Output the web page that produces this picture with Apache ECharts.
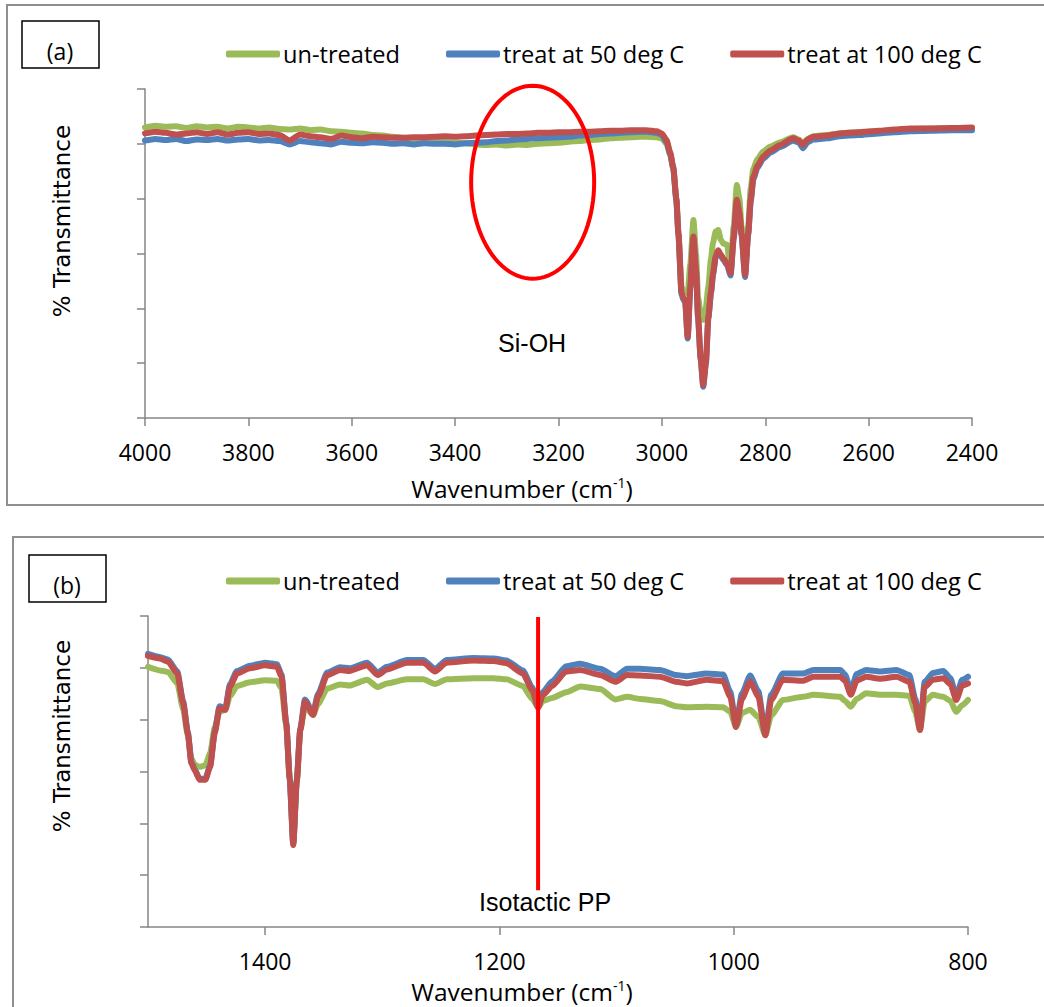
<!DOCTYPE html>
<html><head><meta charset="utf-8">
<script src="https://cdn.jsdelivr.net/npm/echarts@6/dist/echarts.min.js"></script>
<style>html,body{margin:0;padding:0;background:#fff}#c{width:1044px;height:1007px}</style>
</head><body><div id="c"></div>
<script>
// ---------- DATA ----------
const seriesNames = ['un-treated', 'treat at 50 deg C', 'treat at 100 deg C'];

// Panel (a): 4000-2400 cm-1
const wnA = [4000,3980,3960,3940,3920,3900,3880,3860,3840,3820,3800,3780,3760,3740,3720,3700,3680,3660,3640,3620,3600,3580,3560,3540,3520,3500,3480,3460,3440,3420,3400,3380,3360,3340,3320,3300,3280,3260,3240,3220,3200,3180,3160,3140,3120,3100,3080,3060,3040,
  3030,3010,3000,2991,2984,2978,2972,2968,2962,2958,2955,2950,2945,2939,2934,2930,2925,2920,2915,2910,2905,2901,2896,2891,2886,2881,2874,2867,2861,2855,2850,2846,2839,2833,2828,2823,2815,2804,2790,2771,2746,2735,2727,2718,2707,2680,2656,2620,2580,2551,2520,2480,2440,2400];
const untreatedA = [53.0,53.3,53.1,53.2,52.9,53.2,53.0,53.1,52.8,53.1,53.0,52.8,53.0,52.7,52.6,52.8,52.5,52.6,52.3,52.2,52.0,51.9,51.6,51.5,51.3,51.1,50.9,50.7,50.6,50.4,50.2,50.1,49.9,49.8,49.9,49.7,49.9,49.8,50.0,50.1,50.2,50.4,50.5,50.7,50.8,51.0,51.1,51.2,51.3,
  51.3,51.2,51.0,50.0,48.0,45.5,40,34,24,23,23,22.8,28,36.1,30,22,19,17.9,20,24,29,32,34,34.3,32.5,31.8,31.6,27,35,42.5,40,35,27,35,42,45.5,47.2,48.6,49.5,50.3,51.2,50.8,50.0,50.9,51.4,51.6,51.9,52.1,52.3,52.5,52.7,52.8,52.9,52.9];
const t50A = [50.6,50.9,50.7,50.9,50.5,50.8,50.7,50.9,50.6,50.8,50.9,50.6,50.7,50.5,49.9,50.5,50.3,50.1,49.9,50.4,50.2,50.1,50.3,50.2,50.0,50.1,49.9,50.1,50.0,50.0,49.9,50.1,50.2,50.3,50.5,50.6,50.8,50.9,51.0,51.1,51.2,51.3,51.5,51.6,51.8,51.9,52.0,52.1,52.2,
  52.2,52.0,51.6,50.3,48.2,45.5,39.7,33.4,22.5,21.5,21.2,14.5,23.7,32.8,26.7,18.2,10.7,5.7,9.7,18.2,22.7,26.1,29.2,30.3,29.5,28.8,27.9,26.0,32.7,39.5,37.2,33.4,25.7,33.4,39.6,43.6,45.6,47.3,48.4,49.4,50.6,50.2,49.2,50.3,50.8,51.0,51.4,51.6,51.9,52.1,52.3,52.4,52.5,52.5];
const t100A = [51.9,52.2,52.0,51.7,51.9,52.1,51.8,52.1,51.7,52.0,52.1,51.8,51.9,51.6,50.6,51.7,51.4,51.2,50.9,51.5,51.2,51.0,51.3,51.2,51.1,51.1,51.2,51.2,51.3,51.4,51.3,51.4,51.5,51.6,51.7,51.8,51.8,51.9,52.0,52.0,52.1,52.1,52.2,52.2,52.3,52.4,52.4,52.5,52.5,
  52.5,52.3,51.9,50.7,48.5,45.8,40,33.7,22.8,21.8,21.5,14.8,24,33.1,27,18.5,11,6.0,10,18.5,23,26.4,29.5,30.6,29.8,29.1,28.2,26.4,33,39.8,37.5,33.7,26.1,33.7,40,44.0,46,47.7,48.8,49.8,51.0,50.6,49.8,50.8,51.3,51.5,51.9,52.1,52.4,52.6,52.8,52.8,52.9,53.0];

// Panel (b): 1500-800 cm-1
const wnB = [1500,1490,1483,1475,1470,1466,1463,1460,1456,1451,1447,1443,1439,1434,1430,1424,1413,1400,1390,1386,1382,1379,1376,1373,1370,1366,1359,1355,1347,1336,1328,1313,1304,1296,1279,1265,1255,1245,1222,1205,1194,1180,1172,1167,1163,1155,1143,1131,1114,1101,1091,1080,1063,1049,1040,1023,1009,1003,998,993,986,979,973,968,958,941,932,909,905,900,895,887,875,861,850,845,841,837,830,821,815,810,805,800];
const untreatedB = [50.2,49.5,49.2,47.0,42.0,37.0,32.5,31.3,30.9,31.2,33.5,38.5,41.5,41.9,44.5,46.5,47.2,47.6,47.5,46.0,39.0,29.0,16.5,28.5,38.0,42.5,40.9,43.0,46.0,46.8,46.6,47.7,46.3,47.0,47.8,47.8,46.9,47.8,48.0,48.0,47.8,46.5,44.0,42.4,43.6,44.2,45.3,46.4,45.9,43.9,44.4,44.0,43.6,42.6,42.4,42.5,42.4,41.5,38.6,41.3,41.9,40.5,37.0,40.8,43.8,44.4,44.8,44.4,43.6,42.5,44.0,45.1,44.8,44.8,44.6,41.5,38.0,43.5,44.8,44.4,43.6,41.5,42.8,43.8];
const t50B = [52.7,52.1,51.6,49.3,43.5,37.6,31.8,30.4,28.6,28.6,31.1,37.7,42.6,42.2,46.9,49.4,50.4,51.0,50.7,48.7,39.5,28.5,15.9,28.2,38.3,43.9,41.3,44.9,49.1,50.1,49.9,51.0,49.1,50.2,51.5,51.5,49.8,51.5,51.9,51.8,51.4,49.5,46.2,42.6,45.3,47.4,50.3,50.8,49.8,48.4,49.8,49.8,49.6,48.6,48.4,48.9,48.7,45.4,39.0,45.0,48.5,45.5,37.4,44.8,48.9,48.9,49.6,49.6,48.7,45.6,48.8,49.6,49.3,49.6,48.6,44.0,38.3,47.3,49.0,49.4,48.0,44.5,47.7,48.3];
const t100B = [52.3,51.8,51.2,48.9,43.2,37.4,31.6,30.2,28.4,28.4,30.9,37.4,42.2,41.9,46.4,48.9,49.9,50.5,50.2,48.3,39.3,28.4,15.8,28.0,38.0,43.5,40.9,44.4,48.6,49.6,49.4,50.5,48.6,49.7,51.0,51.0,49.3,51.0,51.4,51.3,50.9,48.9,45.7,42.3,44.7,46.5,49.3,49.6,48.6,47.3,48.6,48.5,48.3,47.3,47.0,47.7,47.4,44.4,38.6,44.0,47.3,44.5,37.0,43.8,47.7,47.5,48.3,48.3,47.5,44.8,47.5,48.3,47.9,48.3,47.3,43.2,38.0,46.3,47.7,48.0,46.8,43.8,46.6,47.0];

// Annotations (data coordinates)
const ovalA = [3250, 43.0, 119, 17.6];       // centre wn, centre value, half-width (wn), half-height (value)
const noteA = ['Si-OH', 3251, 13.7];
const markB = [1167, 59.8, 7.1];             // wn, top value, bottom value
const noteB = ['Isotactic PP', 1161, 4.8];

// ---------- CHART ----------
const colors = ['#9BBB59', '#4F81BD', '#C0504D'];
const pairs = (xs, ys) => xs.map((x, i) => [x, ys[i]]);
const tickFont = 'Open Sans';
const axisGray = '#868686';

function xAxis(grid, min, max) {
  return {
    type: 'value', gridIndex: grid, min: min, max: max, interval: 200, inverse: true,
    axisLine: { show: true, onZero: false, lineStyle: { color: axisGray, width: 1.5 } },
    axisTick: { show: true, length: 8, lineStyle: { color: axisGray, width: 1.5 } },
    axisLabel: { show: true, fontSize: 23, fontFamily: tickFont, color: '#000', margin: 22, showMaxLabel: grid === 0,
      formatter: v => (grid === 1 && v === 1500) ? '' : String(v) },
    splitLine: { show: false }
  };
}
function yAxis(grid) {
  return {
    type: 'value', gridIndex: grid, min: 0, max: 60, interval: 10,
    axisLine: { show: true, lineStyle: { color: axisGray, width: 1.5 } },
    axisTick: { show: true, length: 8, lineStyle: { color: axisGray, width: 1.5 } },
    axisLabel: { show: false },
    splitLine: { show: false }
  };
}
function lineSeries(name, idx, grid, xs, ys) {
  return {
    type: 'line', name: name, xAxisIndex: grid, yAxisIndex: grid,
    data: pairs(xs, ys), showSymbol: false, symbol: 'none',
    smooth: 0.2, smoothMonotone: 'x',
    lineStyle: { color: colors[idx], width: 6, cap: 'round', join: 'round' },
    itemStyle: { color: colors[idx] },
    emphasis: { disabled: true }, animation: false, z: 2 + idx
  };
}
function legend(top) {
  return {
    top: top, left: 221, itemWidth: 54, itemHeight: 7, itemGap: 46, icon: 'roundRect',
    data: seriesNames, selectedMode: false,
    textStyle: { fontSize: 23.6, fontFamily: tickFont, color: '#000', padding: [0, 0, 0, -2] }
  };
}

const yTitleFont = { fontFamily: 'DejaVu Sans', fontSize: 23, fill: '#000' };
const xTitleRich = {
  m: { fontFamily: tickFont, fontSize: 24.5, fill: '#000' },
  s: { fontFamily: tickFont, fontSize: 14, fill: '#000', padding: [0, 0, 12, 0] }
};

const option = {
  animation: false,
  backgroundColor: '#fff',
  grid: [
    { left: 145, top: 89, width: 827, height: 329, outerBoundsMode: 'none' },
    { left: 148, top: 616, width: 820, height: 311, outerBoundsMode: 'none' }
  ],
  xAxis: [xAxis(0, 2400, 4000), xAxis(1, 800, 1500)],
  yAxis: [yAxis(0), yAxis(1)],
  legend: [legend(37), legend(564)],
  series: [
    lineSeries(seriesNames[0], 0, 0, wnA, untreatedA),
    lineSeries(seriesNames[1], 1, 0, wnA, t50A),
    lineSeries(seriesNames[2], 2, 0, wnA, t100A),
    lineSeries(seriesNames[0], 0, 1, wnB, untreatedB),
    lineSeries(seriesNames[1], 1, 1, wnB, t50B),
    lineSeries(seriesNames[2], 2, 1, wnB, t100B),
    {
      type: 'custom', name: 'oval', xAxisIndex: 0, yAxisIndex: 0, clip: false, z: 10, silent: true,
      data: [ovalA],
      renderItem: function (params, api) {
        const c = api.coord([api.value(0), api.value(1)]);
        const s = api.size([api.value(2), api.value(3)]);
        const pts = [];
        for (let i = 0; i < 96; i++) {
          const t = i / 96 * Math.PI * 2;
          pts.push([c[0] + s[0] * Math.cos(t), c[1] + s[1] * Math.sin(t)]);
        }
        return { type: 'polygon', shape: { points: pts }, style: { fill: 'none', stroke: '#FF0000', lineWidth: 4 } };
      }
    },
    {
      type: 'custom', name: 'noteA', xAxisIndex: 0, yAxisIndex: 0, clip: false, z: 10, silent: true,
      data: [[noteA[1], noteA[2]]],
      renderItem: function (params, api) {
        const c = api.coord([api.value(0), api.value(1)]);
        return { type: 'text', x: c[0], y: c[1], style: { text: noteA[0], fontFamily: 'Liberation Sans', fontSize: 25, fill: '#000', align: 'center', verticalAlign: 'middle' } };
      }
    },
    {
      type: 'line', name: 'isotactic marker', xAxisIndex: 1, yAxisIndex: 1, z: 10, silent: true,
      data: [[markB[0], markB[1]], [markB[0], markB[2]]], showSymbol: false, symbol: 'none',
      lineStyle: { color: '#FF0000', width: 4 }, itemStyle: { color: '#FF0000' }
    },
    {
      type: 'custom', name: 'noteB', xAxisIndex: 1, yAxisIndex: 1, clip: false, z: 10, silent: true,
      data: [[noteB[1], noteB[2]]],
      renderItem: function (params, api) {
        const c = api.coord([api.value(0), api.value(1)]);
        return { type: 'text', x: c[0], y: c[1], style: { text: noteB[0], fontFamily: 'Liberation Sans', fontSize: 25, fill: '#000', align: 'center', verticalAlign: 'middle' } };
      }
    }
  ],
  graphic: [
    { type: 'rect', shape: { x: 7, y: 5, width: 1060, height: 500 }, style: { fill: 'none', stroke: '#8f8f8f', lineWidth: 2 }, silent: true },
    { type: 'rect', shape: { x: 13, y: 537, width: 1060, height: 500 }, style: { fill: 'none', stroke: '#8f8f8f', lineWidth: 2 }, silent: true },
    { type: 'rect', shape: { x: 22, y: 21, width: 77, height: 47 }, style: { fill: '#fff', stroke: '#000', lineWidth: 1.5 }, silent: true },
    { type: 'text', x: 60, y: 51, style: { text: '(a)', fontFamily: tickFont, fontSize: 23, fill: '#000', align: 'center', verticalAlign: 'middle' } },
    { type: 'rect', shape: { x: 29, y: 555, width: 77, height: 47 }, style: { fill: '#fff', stroke: '#000', lineWidth: 1.5 }, silent: true },
    { type: 'text', x: 67, y: 585, style: { text: '(b)', fontFamily: tickFont, fontSize: 23, fill: '#000', align: 'center', verticalAlign: 'middle' } },
    { type: 'text', x: 62, y: 221, rotation: Math.PI / 2, style: Object.assign({ text: '% Transmittance', align: 'center', verticalAlign: 'middle' }, yTitleFont) },
    { type: 'text', x: 62, y: 736, rotation: Math.PI / 2, style: Object.assign({ text: '% Transmittance', align: 'center', verticalAlign: 'middle' }, yTitleFont) },
    { type: 'text', x: 522, y: 488, style: { text: '{m|Wavenumber (cm}{s|-1}{m|)}', align: 'center', verticalAlign: 'middle', rich: xTitleRich } },
    { type: 'text', x: 522, y: 991, style: { text: '{m|Wavenumber (cm}{s|-1}{m|)}', align: 'center', verticalAlign: 'middle', rich: xTitleRich } }
  ]
};

const chart = echarts.init(document.getElementById('c'), null, { renderer: 'svg', width: 1044, height: 1007 });
chart.setOption(option);
</script>
</body></html>
